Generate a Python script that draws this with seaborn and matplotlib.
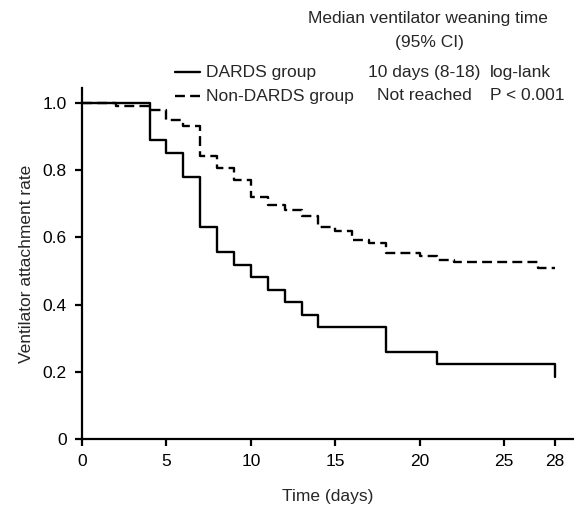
import matplotlib
matplotlib.use("Agg")
import matplotlib.pyplot as plt
import pandas as pd
import seaborn as sns
from matplotlib.lines import Line2D

# Kaplan-Meier step values
dards_days = [0, 4, 5, 6, 7, 8, 9, 10, 11, 12, 13, 14, 18, 21, 28]
dards_rate = [1.0, 0.889, 0.852, 0.778, 0.630, 0.556, 0.519, 0.481, 0.444,
              0.407, 0.370, 0.333, 0.259, 0.222, 0.185]

non_days = [0, 2, 4, 5, 6, 7, 8, 9, 10, 11, 12, 13, 14, 15, 16, 17, 18, 20,
            21, 22, 27, 28]
non_rate = [1.0, 0.990, 0.978, 0.948, 0.930, 0.841, 0.806, 0.771, 0.719, 0.695,
            0.681, 0.664, 0.630, 0.619, 0.592, 0.583, 0.552, 0.544, 0.532,
            0.525, 0.510, 0.510]

groups = ["DARDS group", "Non-DARDS group"]
medians = ["10 days (8-18)", "Not reached"]
stats_text = ["log-lank", "P < 0.001"]
x_ticks = [0, 5, 10, 15, 20, 25, 28]
y_ticks = [0, 0.2, 0.4, 0.6, 0.8, 1.0]
y_tick_labels = ["0", "0.2", "0.4", "0.6", "0.8", "1.0"]

df = pd.concat([
    pd.DataFrame({"day": dards_days, "rate": dards_rate, "group": groups[0]}),
    pd.DataFrame({"day": non_days, "rate": non_rate, "group": groups[1]}),
])

sns.set_style("ticks")
plt.rcParams["font.family"] = ["Liberation Sans", "DejaVu Sans"]

fig = plt.figure(figsize=(5.74, 5.08), dpi=100)
ax = fig.add_axes([82 / 574, 1 - 439 / 508, 491 / 574, 351 / 508])

lw = 1.7
sns.lineplot(data=df, x="day", y="rate", style="group", hue="group",
             palette=["black", "black"], dashes={groups[0]: "", groups[1]: (4.2, 2.2)},
             estimator=None, drawstyle="steps-post", linewidth=lw,
             legend=False, ax=ax)

ax.set_xlim(0, 29.07)
ax.set_ylim(0, 1.044)
ax.set_xticks(x_ticks)
ax.set_xticklabels([str(t) for t in x_ticks])
ax.set_yticks(y_ticks)
ax.set_yticklabels(y_tick_labels)
fs = 12.5
ax.tick_params(direction="out", length=5, width=1.6, labelsize=fs, colors="black", pad=6)
for side in ["left", "bottom"]:
    ax.spines[side].set_linewidth(1.6)
    ax.spines[side].set_color("black")
sns.despine(ax=ax)

ax.set_xlabel("Time (days)", fontsize=fs, labelpad=14)
ax.set_ylabel("Ventilator attachment rate", fontsize=fs, labelpad=6)

# custom legend / table at the top
def fx(px):
    return px / 574
def fy(py):
    return 1 - py / 508

fig.text(fx(428), fy(18), "Median ventilator weaning time", ha="center", va="center", fontsize=fs)
fig.text(fx(429), fy(42), "(95% CI)", ha="center", va="center", fontsize=fs)
row_y = [72, 96]
styles = ["-", (0, (4.2, 2.2))]
for i in range(2):
    fig.add_artist(Line2D([fx(175), fx(200)], [fy(row_y[i]), fy(row_y[i])],
                          color="black", linewidth=lw, linestyle=styles[i],
                          transform=fig.transFigure))
    fig.text(fx(206), fy(row_y[i]), groups[i], ha="left", va="center", fontsize=fs)
    fig.text(fx(424), fy(row_y[i]), medians[i], ha="center", va="center", fontsize=fs)
    fig.text(fx(490), fy(row_y[i]), stats_text[i], ha="left", va="center", fontsize=fs)

fig.savefig("out.png", dpi=100)
